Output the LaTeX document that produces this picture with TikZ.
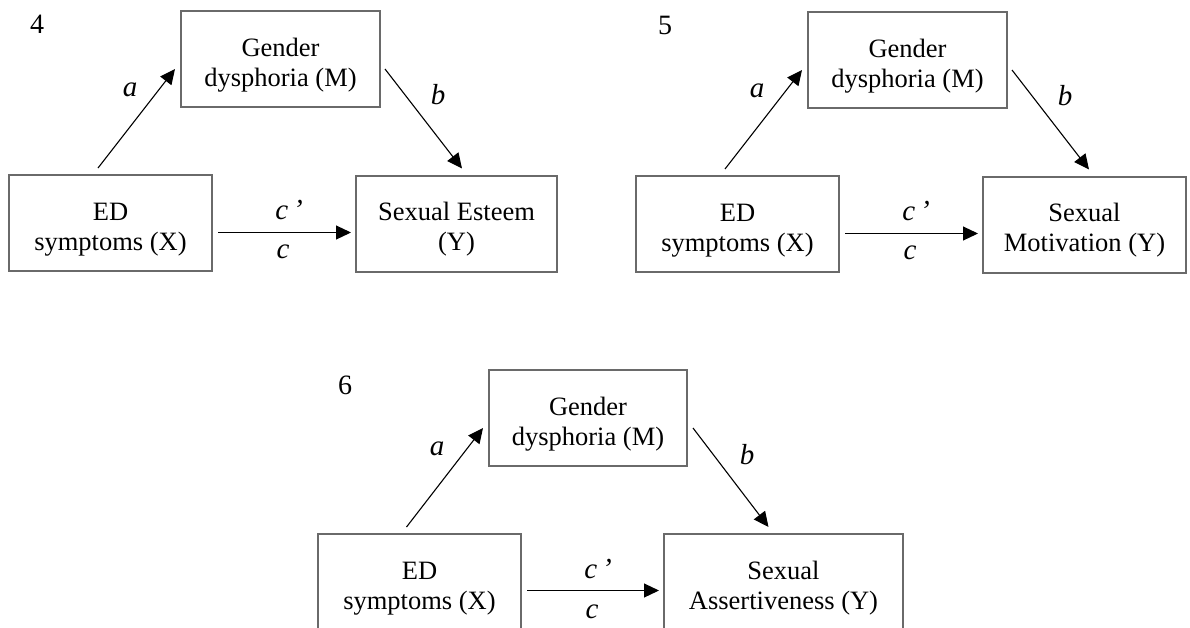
\documentclass[tikz,border=0pt]{standalone}
\usepackage{fontspec}
\setmainfont{Liberation Serif}
\usetikzlibrary{arrows.meta}

% strut that lowers the two-line box labels a little
\newcommand\boxpad{\rule{0pt}{30pt}}

\tikzset{
  varbox/.style={draw=boxgray, line width=2pt, minimum height=96pt, align=center,
    inner sep=0pt, font=\fontsize{26.5}{30}\selectfont},
  path/.style={draw=black, line width=1.1pt, -{Triangle[length=15pt,width=14pt]}},
  coef/.style={font=\fontsize{29}{30}\selectfont\itshape},
  panelno/.style={font=\fontsize{28}{30}\selectfont}
}
\definecolor{boxgray}{HTML}{6A6A6A}

\begin{document}
\begin{tikzpicture}[x=1pt, y=-1pt]
  \useasboundingbox (0,0) rectangle (1190,627);
  \clip (0,0) rectangle (1190,627);

  % Model 4: sexual esteem
  \begin{scope}[shift={(0,0)}]
    \node[panelno] (n4) at (37,24) {4};
    \node[varbox, minimum width=199pt] (M4) at (280.5,59) {\boxpad Gender\\dysphoria (M)};
    \node[varbox, minimum width=203pt] (X4) at (110.5,223) {\boxpad ED\\symptoms (X)};
    \node[varbox, minimum width=201pt] (Y4) at (456.5,223.5) {\boxpad Sexual Esteem\\(Y)};
    \draw[path] ([shift={(-12.5pt,6pt)}]X4.north) -- ([shift={(-5pt,-10pt)}]M4.west);
    \draw[path] ([shift={(4pt,-10pt)}]M4.east) -- ([shift={(5.5pt,6pt)}]Y4.north);
    \draw[path] ([shift={(5pt,-9.5pt)}]X4.east) -- ([shift={(-4pt,-9pt)}]Y4.west);
    \node[coef] (a4) at (130,90) {a};
    \node[coef] (b4) at (438,95) {b};
    \node[coef] (cp4) at (289,210) {c\,’};
    \node[coef] (c4) at (283,252) {c};
  \end{scope}

  % Model 5: sexual motivation
  \begin{scope}[shift={(627,1)}]
    \node[panelno] (n5) at (38,24) {5};
    \node[varbox, minimum width=199pt] (M5) at (280.5,59) {\boxpad Gender\\dysphoria (M)};
    \node[varbox, minimum width=203pt] (X5) at (110.5,223) {\boxpad ED\\symptoms (X)};
    \node[varbox, minimum width=203pt] (Y5) at (457.5,223.5) {\boxpad Sexual\\Motivation (Y)};
    \draw[path] ([shift={(-12.5pt,6pt)}]X5.north) -- ([shift={(-5pt,-10pt)}]M5.west);
    \draw[path] ([shift={(4pt,-10pt)}]M5.east) -- ([shift={(4.5pt,6pt)}]Y5.north);
    \draw[path] ([shift={(5pt,-9.5pt)}]X5.east) -- ([shift={(-4pt,-9pt)}]Y5.west);
    \node[coef] (a5) at (130,90) {a};
    \node[coef] (b5) at (438,95) {b};
    \node[coef] (cp5) at (289,210) {c\,’};
    \node[coef] (c5) at (283,252) {c};
  \end{scope}

  % Model 6: sexual assertiveness
  \begin{scope}[shift={(309,359)}]
    \node[panelno] (n6) at (36,26) {6};
    \node[varbox, minimum width=198pt] (M6) at (279,59) {\boxpad Gender\\dysphoria (M)};
    \node[varbox, minimum width=203pt] (X6) at (110.5,223) {\boxpad ED\\symptoms (X)};
    \node[varbox, minimum width=239pt] (Y6) at (474.5,223) {\boxpad Sexual\\Assertiveness (Y)};
    \draw[path] ([shift={(-13pt,6pt)}]X6.north) -- ([shift={(-5pt,-10pt)}]M6.west);
    \draw[path] ([shift={(5pt,-10pt)}]M6.east) -- ([shift={(-15pt,6pt)}]Y6.north);
    \draw[path] ([shift={(5pt,-8.5pt)}]X6.east) -- ([shift={(-4pt,-8.5pt)}]Y6.west);
    \node[coef] (a6) at (128,90) {a};
    \node[coef] (b6) at (438,96) {b};
    \node[coef] (cp6) at (289,210) {c\,’};
    \node[coef] (c6) at (283,253) {c};
  \end{scope}
\end{tikzpicture}
\end{document}
